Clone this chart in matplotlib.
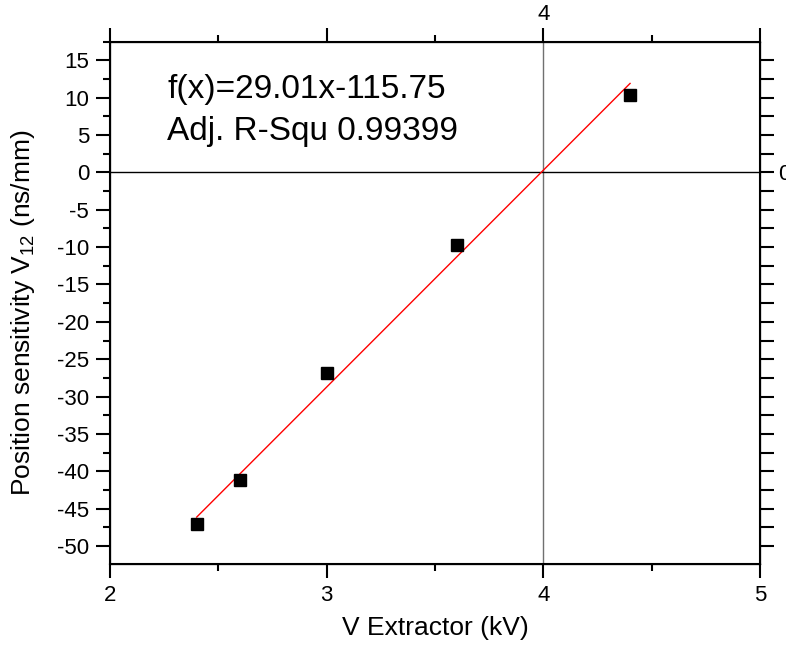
import numpy as np
import matplotlib
matplotlib.use("Agg")
import matplotlib.pyplot as plt
from matplotlib.ticker import MultipleLocator

plt.rcParams['font.family'] = ['Liberation Sans', 'DejaVu Sans']
plt.rcParams['mathtext.fontset'] = 'custom'
plt.rcParams['mathtext.rm'] = 'Liberation Sans'
plt.rcParams['axes.unicode_minus'] = False

# data
v_extractor = [2.4, 2.6, 3.0, 3.6, 4.4]
sensitivity = [-47.1, -41.2, -26.8, -9.7, 10.4]
fit_slope = 29.01
fit_intercept = -115.75
fit_text = ["f(x)=29.01x-115.75", "Adj. R-Squ 0.99399"]

x_ticks = [2, 3, 4, 5]

fig = plt.figure(figsize=(7.86, 6.49), dpi=100)
ax = fig.add_axes([0.140, 0.131, 0.827, 0.805])

ax.axvline(4, color='#707070', lw=1.0, zorder=1)
ax.axhline(0, color='black', lw=1.0, zorder=1)

fx = np.array([v_extractor[0], v_extractor[-1]])
ax.plot(fx, fit_slope * fx + fit_intercept, color='red', lw=1.0, zorder=2)
ax.plot(v_extractor, sensitivity, 's', color='black', ms=8, zorder=3)

ax.set_xlim(2, 5)
ax.set_ylim(-52.4, 17.5)
ax.set_xticks(x_ticks)
ax.xaxis.set_minor_locator(MultipleLocator(0.5))
ax.yaxis.set_major_locator(MultipleLocator(5))
ax.yaxis.set_minor_locator(MultipleLocator(2.5))
ax.tick_params(which='major', direction='out', length=10, width=1.5, labelsize=16, pad=5)
ax.tick_params(which='minor', direction='out', length=5, width=1.5)
for s in ax.spines.values():
    s.set_linewidth(1.5)

ax.set_xlabel('V Extractor (kV)', fontsize=19, labelpad=7)
ax.set_ylabel(r'Position sensitivity V$_{\mathrm{12}}$ (ns/mm)', fontsize=19, labelpad=14)
ax.yaxis.set_label_coords(-0.113, 0.48)

# top axis, only "4" labelled
ax_top = ax.twiny()
ax_top.set_xlim(ax.get_xlim())
ax_top.set_xticks(x_ticks)
ax_top.set_xticklabels(['4' if t == 4 else '' for t in x_ticks])
ax_top.xaxis.set_minor_locator(MultipleLocator(0.5))
ax_top.tick_params(which='major', direction='out', length=10, width=1.5, labelsize=16, pad=2)
ax_top.tick_params(which='minor', direction='out', length=5, width=1.5)

# right axis, only "0" labelled
ax_r = ax.twinx()
ax_r.set_ylim(ax.get_ylim())
r_ticks = np.arange(-50, 17.5, 2.5)
ax_r.set_yticks(r_ticks)
ax_r.set_yticklabels(['0' if t == 0 else '' for t in r_ticks])
ax_r.tick_params(which='major', direction='out', length=10, width=1.5, labelsize=16, pad=3)

ax.text(2.263, 9.9, fit_text[0], fontsize=24, ha='left', va='baseline')
ax.text(2.263, 4.3, fit_text[1], fontsize=24, ha='left', va='baseline')

fig.savefig('out.png', dpi=100)
